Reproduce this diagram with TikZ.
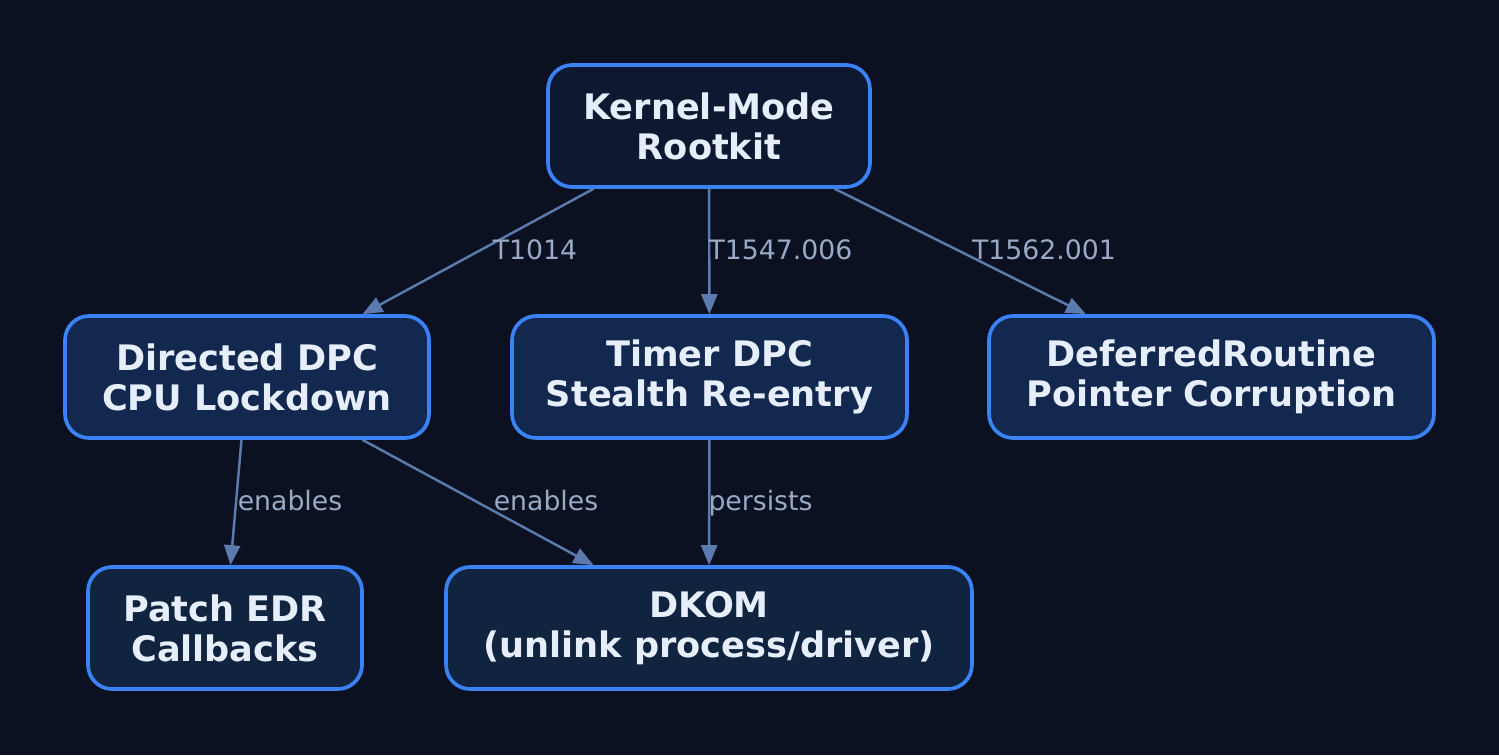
\documentclass[tikz,border=0pt]{standalone}
\usepackage{fontspec}
\setmainfont{DejaVu Sans}
\usetikzlibrary{arrows.meta,positioning}

\definecolor{bgdark}{HTML}{0B1120}
\definecolor{boxedge}{HTML}{3B82F6}
\definecolor{boxtext}{HTML}{E6EEFB}
\definecolor{topfill}{HTML}{0E1830}
\definecolor{midfill}{HTML}{13284F}
\definecolor{lowfill}{HTML}{10233F}
\definecolor{edgeblue}{HTML}{5B7BAE}
\definecolor{tagtext}{HTML}{9AAAC6}

\begin{document}
\begin{tikzpicture}[
    x=0.02cm, y=-0.02cm,
    box/.style={draw=boxedge, line width=2.1pt, rounded corners=0.48cm, align=center, inner sep=0pt, minimum height=2.44cm, text=boxtext, font=\fontsize{20}{22.7}\selectfont\bfseries},
    line/.style={draw=edgeblue, line width=1.4pt, -{Triangle[length=0.4cm, width=0.32cm]}},
    tag/.style={text=tagtext, font=\fontsize{15.2}{18}\selectfont, inner sep=0pt, anchor=base}
]

\useasboundingbox (0,0) rectangle (1499,755);
\fill[bgdark] (0,0) rectangle (1499,755);

\node[box, fill=topfill, minimum width=6.44cm] (rootkit) at (709, 126) {Kernel-Mode\\Rootkit};

\node[box, fill=midfill, minimum width=7.28cm] (directed) at (247, 377) {Directed DPC\\CPU Lockdown};
\node[box, fill=midfill, minimum width=7.9cm] (timer) at (709.5, 377) {Timer DPC\\Stealth Re-entry};
\node[box, fill=midfill, minimum width=8.9cm] (deferred) at (1211.5, 377) {DeferredRoutine\\Pointer Corruption};

\node[box, fill=lowfill, minimum width=5.48cm] (patch) at (225, 628) {Patch EDR\\Callbacks};
\node[box, fill=lowfill, minimum width=10.52cm] (dkom) at (709, 628) {DKOM\\(unlink process/driver)};

\draw[line] (rootkit) -- (directed);
\draw[line] (rootkit) -- (timer);
\draw[line] (rootkit) -- (deferred);
\draw[line] (directed) -- (patch);
\draw[line] (directed) -- (dkom);
\draw[line] (timer) -- (dkom);

\node[tag] (t1014) at (535, 259) {T1014};
\node[tag] (t1547) at (780.5, 259) {T1547.006};
\node[tag] (t1562) at (1044, 259) {T1562.001};
\node[tag] (enablesA) at (290, 510) {enables};
\node[tag] (enablesB) at (546, 510) {enables};
\node[tag] (persists) at (760.5, 510) {persists};

\end{tikzpicture}
\end{document}
